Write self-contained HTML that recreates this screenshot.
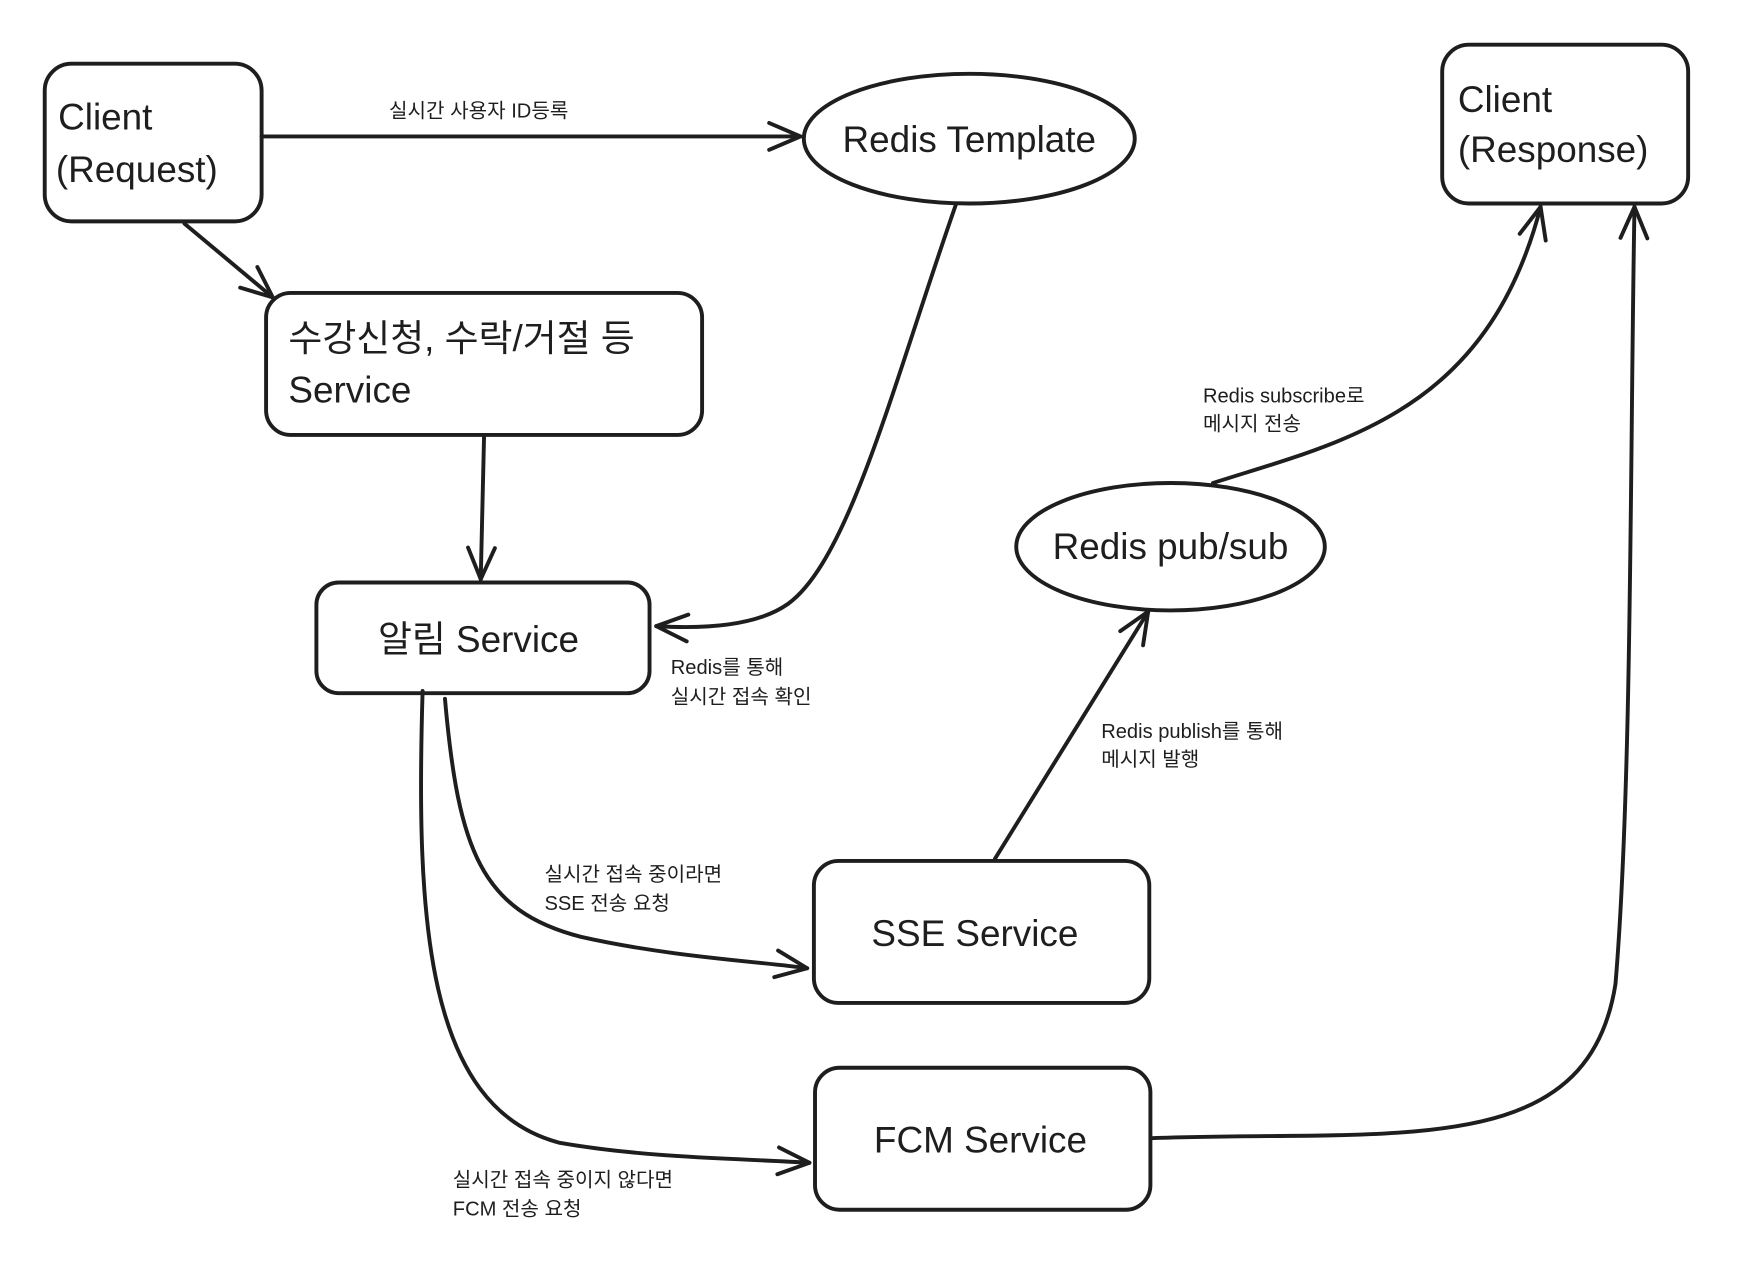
<!DOCTYPE html>
<html><head><meta charset="utf-8"><style>
html,body{margin:0;padding:0;background:#fff;}
svg{display:block;}
text{font-family:"Liberation Sans","Noto Sans CJK KR",sans-serif;fill:#1e1e1e;}
</style></head><body>
<svg width="1753" height="1269" viewBox="0 0 1568 1135" preserveAspectRatio="none" xmlns="http://www.w3.org/2000/svg">
<defs>
<marker id="a" markerWidth="50" markerHeight="50" refX="30" refY="14" orient="auto" markerUnits="userSpaceOnUse" viewBox="0 0 50 50">
<polyline points="2,2 30,14 2,26" fill="none" stroke="#1e1e1e" stroke-width="3.5" stroke-linecap="round" stroke-linejoin="round"/>
</marker>
</defs>
<g fill="none" stroke="#1e1e1e" stroke-width="3.5" stroke-linecap="round">
<rect x="40" y="57" width="194" height="141" rx="24"/>
<ellipse cx="867" cy="124" rx="148" ry="58"/>
<rect x="1290" y="40" width="220" height="142" rx="24"/>
<rect x="238" y="262" width="390" height="127" rx="22"/>
<rect x="283" y="521" width="298" height="99" rx="20"/>
<ellipse cx="1047" cy="489" rx="138" ry="57"/>
<rect x="728" y="770" width="300" height="127" rx="22"/>
<rect x="729" y="955" width="300" height="127" rx="22"/>

<path d="M234,122 L716,122" marker-end="url(#a)"/>
<path d="M165,200 L244,266" marker-end="url(#a)"/>
<path d="M433,389 L430,518" marker-end="url(#a)"/>
<path d="M855,183 C800,340 760,500 705,540 Q670,565 587,560" marker-end="url(#a)"/>
<path d="M1085,432 C1200,395 1330,370 1378,185" marker-end="url(#a)"/>
<path d="M890,768 L1027,547" marker-end="url(#a)"/>
<path d="M398,625 C410,760 430,815 520,838 C600,856 680,860 722,866" marker-end="url(#a)"/>
<path d="M378,618 C372,820 380,990 500,1022 C580,1036 660,1036 724,1040" marker-end="url(#a)"/>
<path d="M1030,1018 C1250,1010 1420,1040 1445,880 C1460,700 1458,400 1462,185" marker-end="url(#a)"/>
</g>

<g font-size="33">
<text x="52" y="116">Client</text>
<text x="50" y="163">(Request)</text>
<text x="867" y="136" text-anchor="middle">Redis Template</text>
<text x="1304" y="100">Client</text>
<text x="1304" y="145">(Response)</text>
<text x="258" y="314">수강신청, 수락/거절 등</text>
<text x="258" y="360">Service</text>
<text x="428" y="583" text-anchor="middle">알림 Service</text>
<text x="1047" y="500" text-anchor="middle">Redis pub/sub</text>
<text x="872" y="846" text-anchor="middle">SSE Service</text>
<text x="877" y="1031" text-anchor="middle">FCM Service</text>
</g>
<g font-size="18">
<text x="348" y="105">실시간 사용자 ID등록</text>
<text x="600" y="603">Redis를 통해</text>
<text x="600" y="629">실시간 접속 확인</text>
<text x="1076" y="360">Redis subscribe로</text>
<text x="1076" y="385">메시지 전송</text>
<text x="985" y="660">Redis publish를 통해</text>
<text x="985" y="685">메시지 발행</text>
<text x="487" y="788">실시간 접속 중이라면</text>
<text x="487" y="814">SSE 전송 요청</text>
<text x="405" y="1061">실시간 접속 중이지 않다면</text>
<text x="405" y="1087">FCM 전송 요청</text>
</g>
</svg>
</body></html>
